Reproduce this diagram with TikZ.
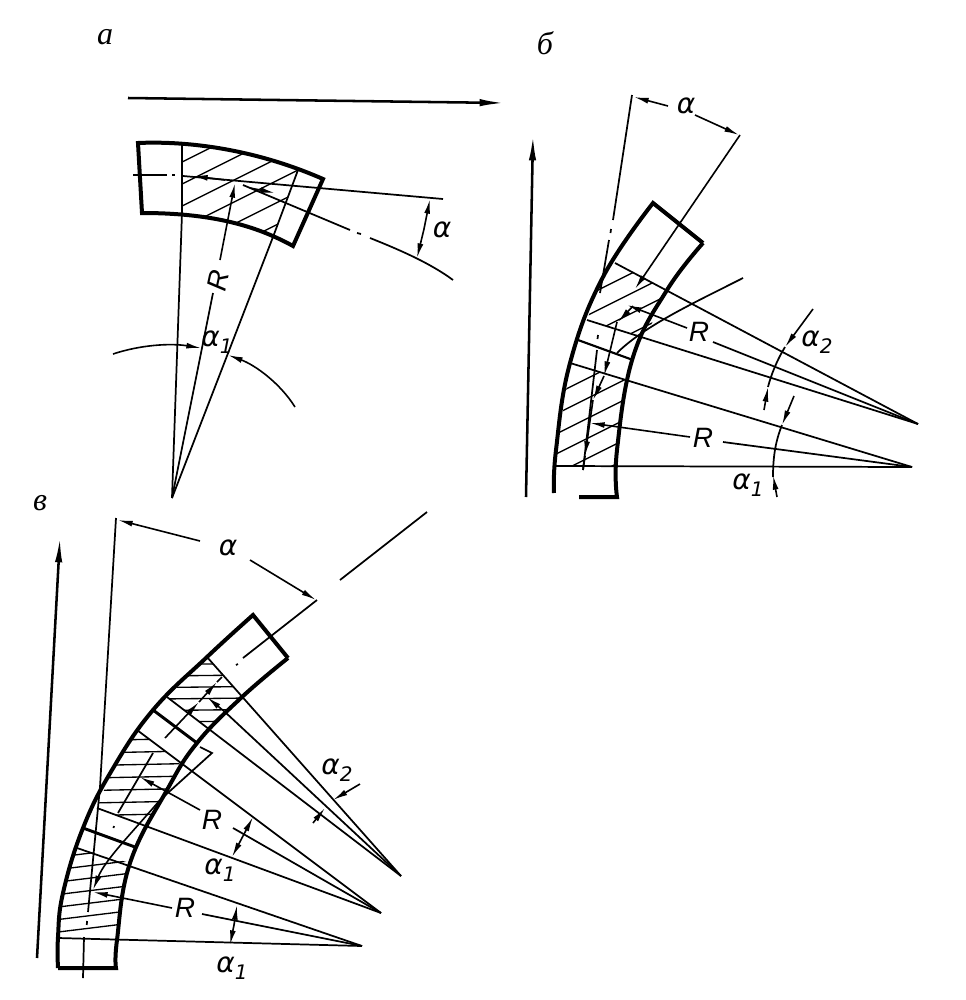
\documentclass[tikz,border=0pt]{standalone}
\usepackage{fontspec}
\setmainfont{Liberation Sans}
\newfontfamily\alphafont{DejaVu Sans}
\newfontfamily\letterfont{Liberation Serif}
\usetikzlibrary{arrows.meta}
\newcommand{\alphasub}[1]{α\raisebox{-0.45ex}{\fontsize{15}{15}\selectfont\itshape #1}}
\tikzset{
  thinline/.style={line width=1.3pt},
  thickline/.style={line width=3pt,line join=miter},
  hatchline/.style={line width=1pt},
  dimtip/.style={-{Latex[length=11pt,width=4.4pt]},line width=1.2pt},
  bigtip/.style={-{Latex[length=19pt,width=5.5pt]},line width=1.9pt},
  lbl/.style={inner sep=0.75pt,font=\fontsize{21}{21}\selectfont\itshape},
  alphalbl/.style={inner sep=0.75pt,font=\fontsize{21}{21}\alphafont\itshape},
  letterlbl/.style={inner sep=0.75pt,font=\fontsize{24}{24}\letterfont\itshape}
}
\begin{document}
\begin{tikzpicture}[x=0.75pt,y=0.75pt,yscale=-1,xscale=1]
\useasboundingbox (0,0) rectangle (965,1000);

%Hatching of panel a
\begin{scope}
\clip (182,143) -- (240,153) -- (298,170) -- (273,237) -- (227,219) -- (182,213) -- cycle;
\foreach \n in {0,...,9} \draw [hatchline] (170,{168+22*\n}) -- (320,{93+22*\n});
\end{scope}
%Hatching of panel b
\begin{scope}
\clip (556,466) -- (557,453) -- (570,363) -- (627,380) -- (617,450) -- (617,466) -- cycle;
\foreach \n in {0,...,9} \draw [hatchline] (540,{402+20*\n}) -- (640,{352+20*\n});
\end{scope}
\begin{scope}
\clip (615,263) -- (603,277) -- (587,320) -- (645,338) -- (667,291) -- cycle;
\foreach \n in {0,...,5} \draw [hatchline] (570,{304+20*\n}) -- (680,{249+20*\n});
\end{scope}
%Hatching of panel c
\begin{scope}
\clip (58,938) -- (63,893) -- (77,848) -- (130,863) -- (117,938) -- cycle;
\foreach \n in {0,...,8} \draw [hatchline] (50,{933-12.5*\n}) -- (140,{922-12.5*\n});
\end{scope}
\begin{scope}
\clip (97,808) -- (112,770) -- (137,730) -- (180,762) -- (167,790) -- (147,827) -- cycle;
\foreach \n in {0,...,8} \draw [hatchline] (90,{828-12.5*\n}) -- (190,{826-12.5*\n});
\end{scope}
\begin{scope}
\clip (167,697) -- (207,657) -- (243,698) -- (210,730) -- cycle;
\foreach \n in {0,...,6} \draw [hatchline] (160,{722-11.5*\n}) -- (250,{721-11.5*\n});
\end{scope}

%Shape: block of panel a
\draw [thickline] (138,143) .. controls (182,141) and (250,147) .. (323,179) -- (293,246) .. controls (255,225) and (210,213) .. (142,213) -- cycle;
%Straight Lines
\draw [thinline] (172,498) -- (182,213) -- (182,143);
\draw [thinline] (172,498) -- (273,237);
\draw [thinline] (273,237) -- (298,170);
\draw [thinline] (172,498) -- (213,293);
\draw [dimtip] (220,260) -- (235,183);
\draw [thinline] (133,175) -- (167,175);
\draw [thinline] (172,175) -- (175,175);
\draw [thinline] (183,176) -- (443,199);
\draw [thinline] (243,185) -- (350,230);
\draw [thinline] (357,233) -- (361,234);
\draw [thinline] (370,238) .. controls (400,250) and (430,263) .. (453,280);
\draw [dimtip] (225,180) -- (193,176);
\draw [dimtip] (250,188) -- (275,193);
\draw [dimtip] (424,229) -- (430,199);
\draw [dimtip] (424,229) -- (417,258);
\draw [dimtip] (113,354) .. controls (140,345) and (170,343) .. (201,348);
\draw [dimtip] (295,407) .. controls (280,383) and (255,365) .. (228,355);

%Big arrows
\draw [bigtip] (128,98) -- (505,103);
\draw [bigtip] (526,497) -- (533,135);
\draw [bigtip] (37,958) -- (60,537);

%Shape: block of panel b
\draw [thickline] plot [smooth,tension=0.7] coordinates {(554,493) (556,450) (570,363) (603,277) (653,203)} -- (703,243);
\draw [thickline] plot [smooth,tension=0.7] coordinates {(703,243) (667,290) (633,357) (617,450) (617,497)} -- (579,497);
%Straight Lines
\draw [thinline] (556,466) -- (912,467);
\draw [thinline] (570,363) -- (912,467);
\draw [thinline] (615,263) -- (918,424);
\draw [thinline] (587,320) -- (918,424);
\draw [thinline,line width=1.6pt] (578,340) -- (633,360);
\draw [dimtip] (690,437) -- (590,423);
\draw [thinline] (723,442) -- (912,467);
\draw [dimtip] (687,328) -- (627,305);
\draw [thinline] (713,342) -- (918,424);
\draw [thinline] (632,95) -- (613,220);
\draw [thinline] (611,229) -- (610.5,233);
\draw [thinline] (609,240) -- (600,293);
\draw [thinline] (598,335) -- (597.5,339);
\draw [thinline] (597,350) -- (583,470);
\draw [dimtip] (740,135) -- (635,289);
\draw [thinline] (743,278) .. controls (700,300) and (645,325) .. (617,353);
\draw [dimtip] (633,306) -- (618,322);
\draw [dimtip] (617,322) -- (604,376);
\draw [dimtip] (604,376) -- (593,400);
\draw [dimtip] (593,400) -- (585,456);
\draw [thinline] (585,456) -- (583,470);
\draw [dimtip] (668,106) -- (634,97);
\draw [dimtip] (695,115) -- (739,135);
\draw [dimtip] (813,309) -- (785,347);
\draw [thinline] (785,347) .. controls (777,360) and (771,375) .. (768,387);
\draw [dimtip] (764,410) -- (768,387);
\draw [dimtip] (794,396) -- (782,425);
\draw [thinline] (782,425) .. controls (776,440) and (773,455) .. (773,477);
\draw [dimtip] (777,497) -- (773,475);

%Shape: block of panel c
\draw [thickline] plot [smooth,tension=0.7] coordinates {(58,968) (58,937) (63,893) (83,828) (112,770) (153,710) (207,657) (253,615)} -- (288,658);
\draw [thickline] plot [smooth,tension=0.7] coordinates {(288,658) (242,697) (197,743) (167,790) (130,863) (117,940) (116,968)} -- (58,968);
%Straight Lines
\draw [thinline] (58,938) -- (362,946);
\draw [thinline] (77,848) -- (362,946);
\draw [thinline] (97,808) -- (381,913);
\draw [thinline] (137,730) -- (381,913);
\draw [thinline] (207,657) -- (401,876);
\draw [thinline] (167,697) -- (401,876);
\draw [thickline,line width=2.2pt] (83,828) -- (135,847);
\draw [thickline,line width=2.2pt] (153,710) -- (197,743);
\draw [dimtip] (172,908) -- (93,892);
\draw [thinline] (202,914) -- (362,946);
\draw [dimtip] (200,810) -- (140,777);
\draw [thinline] (233,828) -- (381,913);
\draw [dimtip] (225,712) -- (207,697);
\draw [thinline] (225,712) -- (401,876);
\draw [thinline] (116,518) -- (100,787) -- (88,912);
\draw [thinline] (87,921) -- (86.8,925);
\draw [thinline] (84,937) -- (83,978);
\draw [dimtip] (165,738) -- (199,702);
\draw [dimtip] (199,702) -- (217,682);
\draw [thinline] (217,682) -- (222,677);
\draw [thinline] (236,665) -- (238,664);
\draw [thinline] (243,658) -- (317,600);
\draw [thinline] (340,580) -- (427,512);
\draw [thinline] (200,747) -- (212,753) -- (160,800);
\draw [dimtip] (160,800) .. controls (130,835) and (105,860) .. (93,890);
\draw [thinline] (153,753) -- (118,813);
\draw [thinline] (114,826) -- (113.5,828);
\draw [dimtip] (200,541) -- (118,520);
\draw [dimtip] (250,560) -- (316,600);
\draw [dimtip] (360,784) -- (333,800);
\draw [dimtip] (313,823) -- (325,808);
\draw [dimtip] (243,836) -- (253,817);
\draw [dimtip] (243,836) -- (232,857);
\draw [dimtip] (234,925) -- (237,905);
\draw [dimtip] (234,925) -- (230,945);

% Text Nodes
\node [letterlbl] (labela) at (105,37) {а};
\node [letterlbl] (labelb) at (545,43) {б};
\node [letterlbl] (labelc) at (40,503) {в};
\node [alphalbl] (alphaa) at (442,230) {α};
\node [lbl,rotate=78] (ra) at (218,281) {R};
\node [alphalbl] (alphaoa) at (217,342) {\alphasub{1}};
\node [alphalbl] (alphab) at (686,106) {α};
\node [lbl] (rbup) at (699,332) {R};
\node [lbl] (rblow) at (703,438) {R};
\node [alphalbl] (alphabtwo) at (817,342) {\alphasub{2}};
\node [alphalbl] (alphaob) at (748,485) {\alphasub{1}};
\node [alphalbl] (alphac) at (228,548) {α};
\node [alphalbl] (alphactwo) at (337,770) {\alphasub{2}};
\node [lbl] (rcup) at (212,820) {R};
\node [alphalbl] (alphaoc) at (220,870) {\alphasub{1}};
\node [lbl] (rclow) at (185,908) {R};
\node [alphalbl] (alphaod) at (232,968) {\alphasub{1}};

\end{tikzpicture}
\end{document}
